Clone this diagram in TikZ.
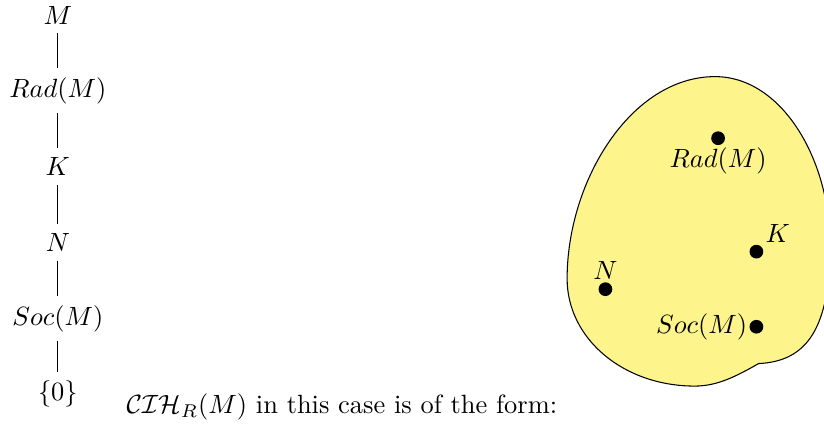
\documentclass[tikz,border=0pt]{standalone}
\usepackage{xcolor}
\usetikzlibrary{positioning}

\definecolor{blobyellow}{RGB}{254,244,140}
\tikzset{dot/.style={circle, fill=black, inner sep=0pt, minimum size=5.2pt}}

\begin{document}
\begin{tikzpicture}[node distance=1.01cm, on grid]
        \useasboundingbox (0,0) rectangle (10.97,5.71);

        % the chain of submodules
        \node (M) at (0.77,5.51) {$M$};
        \node (rad) [below=of M] {$Rad(M)$};
        \node (K) [below=of rad] {$K$};
        \node (N) [below=of K] {$N$};
        \node (soc) [below=of N] {$Soc(M)$};
        \node (zero) [below=of soc] {$\{0\}$};

        \draw (M) -- (rad) -- (K) -- (N) -- (soc) -- (zero);

        \node (caption) [anchor=base west] at (1.56,0.2) {$\mathcal{CIH}_R(M)$ in this case is of the form:};

        % the blob
        \draw[fill=blobyellow] (9.52,4.69)
            .. controls (10.4,4.69) and (11.05,3.6) .. (11.05,2.45)
            .. controls (11.05,1.35) and (10.75,0.9) .. (10.1,0.87)
            .. controls (9.8,0.7) and (9.55,0.57) .. (9.25,0.57)
            .. controls (8.3,0.57) and (7.55,1.2) .. (7.55,2.0)
            .. controls (7.55,3.3) and (8.4,4.69) .. (9.52,4.69) -- cycle;

        \node[dot] (rad2) at (9.56,3.87) {};
        \node[dot] (K2) at (10.07,2.36) {};
        \node[dot] (N2) at (8.06,1.86) {};
        \node[dot] (soc2) at (10.07,1.36) {};

        \node[below] at (rad2.center) {$Rad(M)$};
        \node[above right] at (K2.center) {$K$};
        \node[above] at (N2.center) {$N$};
        \node[left] at (soc2.center) {$Soc(M)$};

\end{tikzpicture}
\end{document}
